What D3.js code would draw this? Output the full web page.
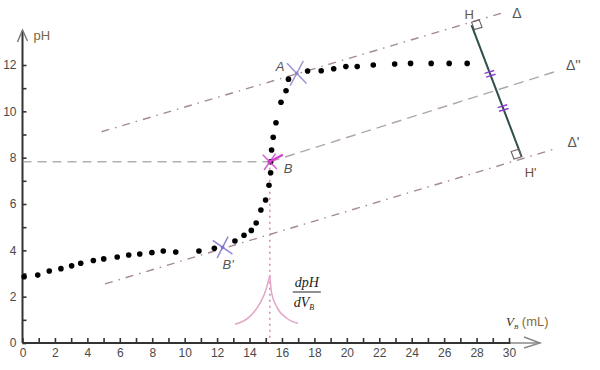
<!DOCTYPE html>
<html>
<head>
<meta charset="utf-8">
<script src="https://cdn.jsdelivr.net/npm/d3@7"></script>
<style>
  body { margin: 0; background: #fff; }
  svg { display: block; }
</style>
</head>
<body>
<svg id="chart" width="600" height="370"></svg>
<script>
// titration curve
const volumeMl = [0.1, 0.94, 1.65, 2.37, 3.03, 3.59, 4.37, 5.01, 5.84, 6.55, 7.23, 7.98, 8.68, 9.45,
  10.88, 11.83, 13.10, 13.66, 14.11, 14.41, 14.70, 14.99, 15.20, 15.30, 15.30, 15.36, 15.46, 15.63,
  15.94, 16.25, 16.40, 17.58, 18.42, 19.19, 19.94, 20.64, 21.63, 22.95, 23.93, 25.20, 26.31, 27.42];
const phValues = [2.86, 2.93, 3.11, 3.21, 3.33, 3.44, 3.56, 3.63, 3.71, 3.80, 3.84, 3.90, 3.97, 3.93,
  3.97, 4.09, 4.40, 4.65, 4.86, 5.18, 5.74, 6.17, 6.81, 7.35, 7.82, 8.33, 8.88, 9.51,
  10.39, 10.89, 11.39, 11.74, 11.75, 11.84, 11.93, 11.93, 12.00, 12.04, 12.07, 12.07, 12.07, 12.07];

const xTickValues = d3.range(0, 31);
const xTickLabels = [0, 2, 4, 6, 8, 10, 12, 14, 16, 18, 20, 22, 24, 26, 28, 30];
const yTickValues = d3.range(0, 13);
const yTickLabels = [0, 2, 4, 6, 8, 10, 12];

// parallel tangents (endpoints [mL, pH])
const tangentDelta = [[4.88, 9.12], [29.64, 14.26]];
const tangentDeltaPrime = [[5.09, 2.55], [32.93, 8.40]];
const tangentDeltaMid = [[15.25, 7.82], [32.83, 11.71]];

const pointA = [16.91, 11.64];
const pointB = [15.25, 7.82];
const pointBPrime = [12.34, 4.13];
const pointH = [27.69, 13.72];
const pointHPrime = [30.78, 8.04];

// dpH/dV peak, in the same pH units
const derivLeft = [[13.10, 0.81], [14.01, 1.14], [14.64, 1.71], [15.01, 2.29], [15.25, 2.93]];
const derivRight = [[15.25, 2.93], [15.36, 2.15], [15.67, 1.57], [16.29, 1.07], [17.00, 0.85]];

const svg = d3.select("#chart");
const x = d3.scaleLinear().domain([0, 30]).range([22.5, 509]);
const y = d3.scaleLinear().domain([0, 12]).range([343, 65]);
const px = d => [x(d[0]), y(d[1])];

const font = "'Liberation Sans', Arial, sans-serif";
const serif = "'Liberation Serif', 'Times New Roman', serif";

// axes
const gx = svg.append("g").attr("transform", `translate(0,${y(0)})`)
  .call(d3.axisBottom(x).tickValues(xTickValues).tickSize(-5).tickPadding(5)
    .tickFormat(d => xTickLabels.includes(d) ? d : ""));
const gy = svg.append("g").attr("transform", `translate(${x(0)},0)`)
  .call(d3.axisLeft(y).tickValues(yTickValues).tickSize(-4).tickPadding(6)
    .tickFormat(d => yTickLabels.includes(d) ? d : ""));
[gx, gy].forEach(g => {
  g.select(".domain").remove();
  g.selectAll(".tick line").attr("stroke", "#333").attr("stroke-width", 1.6);
  g.selectAll(".tick text").attr("fill", "#4a4a4a").style("font", `12px ${font}`);
});

svg.append("line").attr("x1", x(0)).attr("y1", y(0)).attr("x2", x(30.1)).attr("y2", y(0))
  .attr("stroke", "#333").attr("stroke-width", 2);
svg.append("line").attr("x1", x(30.1)).attr("y1", y(0)).attr("x2", x(30) + 31).attr("y2", y(0))
  .attr("stroke", "#888").attr("stroke-width", 1.5);
svg.append("path").attr("d", `M${x(30) + 15},${y(0) - 6}L${x(30) + 31},${y(0)}L${x(30) + 15},${y(0) + 5}`)
  .attr("fill", "none").attr("stroke", "#888").attr("stroke-width", 1.5);

svg.append("line").attr("x1", x(0)).attr("y1", y(0)).attr("x2", x(0)).attr("y2", 31)
  .attr("stroke", "#333").attr("stroke-width", 2);
svg.append("path").attr("d", `M${x(0) - 5},${42}L${x(0)},${30}L${x(0) + 5},${41}`)
  .attr("fill", "none").attr("stroke", "#777").attr("stroke-width", 1.4);

svg.append("text").attr("x", x(0) + 11).attr("y", 40).text("pH")
  .attr("fill", "#7a6548").style("font", `13px ${font}`);

const vLabel = svg.append("text").attr("x", 506).attr("y", 326).style("font", `13px ${font}`);
vLabel.append("tspan").text("V").attr("fill", "#333").style("font", `italic 13px ${serif}`);
vLabel.append("tspan").text("B").attr("dy", 3).attr("fill", "#333").style("font", `italic 7px ${serif}`);
vLabel.append("tspan").text(" (mL)").attr("dy", -3).attr("fill", "#8b6a3a");

// helper lines
svg.append("line")
  .attr("x1", x(0)).attr("y1", y(pointB[1])).attr("x2", x(pointB[0])).attr("y2", y(pointB[1]))
  .attr("stroke", "#8a8a8a").attr("stroke-width", 1).attr("stroke-dasharray", "9,6");

svg.append("line")
  .attr("x1", x(pointB[0])).attr("y1", y(pointB[1])).attr("x2", x(pointB[0])).attr("y2", y(0))
  .attr("stroke", "#d48fb2").attr("stroke-width", 1.6).attr("stroke-dasharray", "2,4");

const segLine = d3.line().x(d => x(d[0])).y(d => y(d[1]));
[
  { data: tangentDelta, color: "#a38a92", dash: "8,6,1.5,6" },
  { data: tangentDeltaPrime, color: "#a38a92", dash: "8,6,1.5,6" },
  { data: tangentDeltaMid, color: "#b0a6a8", dash: "10,6" }
].forEach(t => {
  svg.append("path").attr("d", segLine(t.data)).attr("fill", "none")
    .attr("stroke", t.color).attr("stroke-width", 1.4).attr("stroke-dasharray", t.dash);
});

// derivative peak
const peakLine = d3.line().x(d => x(d[0])).y(d => y(d[1])).curve(d3.curveMonotoneX);
[derivLeft, derivRight].forEach(part => {
  svg.append("path").attr("d", peakLine(part)).attr("fill", "none")
    .attr("stroke", "#e2a6c8").attr("stroke-width", 1.5);
});
const fx = x(pointB[0]) + 23;
svg.append("text").attr("x", fx + 14).attr("y", 287).attr("text-anchor", "middle")
  .text("dpH").attr("fill", "#222").style("font", `italic 14px ${serif}`);
svg.append("line").attr("x1", fx).attr("x2", fx + 28).attr("y1", 292).attr("y2", 292)
  .attr("stroke", "#222").attr("stroke-width", 1);
const den = svg.append("text").attr("x", fx + 1).attr("y", 307).attr("fill", "#222")
  .style("font", `italic 14px ${serif}`);
den.append("tspan").text("dV");
den.append("tspan").text("B").attr("dy", 3).style("font-size", "8px");

// perpendicular H H'
const [hx, hy] = px(pointH), [hpx, hpy] = px(pointHPrime);
svg.append("line").attr("x1", hx).attr("y1", hy).attr("x2", hpx).attr("y2", hpy)
  .attr("stroke", "#2f4f4c").attr("stroke-width", 2);

const len = Math.hypot(hpx - hx, hpy - hy);
const v = [(hpx - hx) / len, (hpy - hy) / len];
const td = [x(tangentDelta[1][0]) - x(tangentDelta[0][0]), y(tangentDelta[1][1]) - y(tangentDelta[0][1])];
const tl = Math.hypot(td[0], td[1]);
const u = [td[0] / tl, td[1] / tl];
const s = 8;
function square(cx, cy, a, b) {
  return `M${cx},${cy}L${cx + a[0] * s},${cy + a[1] * s}L${cx + (a[0] + b[0]) * s},${cy + (a[1] + b[1]) * s}L${cx + b[0] * s},${cy + b[1] * s}Z`;
}
svg.append("path").attr("d", square(hx, hy - 3, u, v))
  .attr("fill", "none").attr("stroke", "#6a6060").attr("stroke-width", 1.1);
svg.append("path").attr("d", square(hpx, hpy, [-u[0], -u[1]], [-v[0], -v[1]]))
  .attr("fill", "none").attr("stroke", "#6a6060").attr("stroke-width", 1.1);

[0.37, 0.63].forEach(t => {
  const cx = hx + (hpx - hx) * t, cy = hy + (hpy - hy) * t;
  [-2, 2].forEach(o => {
    const ox = cx + v[0] * o, oy = cy + v[1] * o;
    svg.append("line").attr("x1", ox - u[0] * 5).attr("y1", oy - u[1] * 5)
      .attr("x2", ox + u[0] * 5).attr("y2", oy + u[1] * 5)
      .attr("stroke", "#8a3fd0").attr("stroke-width", 1.5);
  });
});

// points
svg.append("g").selectAll("circle")
  .data(d3.zip(volumeMl, phValues))
  .join("circle")
  .attr("cx", d => x(d[0]))
  .attr("cy", d => y(d[1]))
  .attr("r", 2.8)
  .attr("fill", "#000");

// cross markers
function cross(p, color, half, a1, a2, w) {
  const [cx, cy] = px(p);
  [a1, a2].forEach(a => {
    const r = a * Math.PI / 180;
    svg.append("line")
      .attr("x1", cx - Math.cos(r) * half).attr("y1", cy - Math.sin(r) * half)
      .attr("x2", cx + Math.cos(r) * half).attr("y2", cy + Math.sin(r) * half)
      .attr("stroke", color).attr("stroke-width", w).attr("opacity", 0.85);
  });
  svg.append("circle").attr("cx", cx).attr("cy", cy).attr("r", 1.8).attr("fill", color);
}
cross(pointA, "#8c82cc", 14, 46, 118, 1.5);
cross(pointB, "#d23fcf", 10, 45, 125, 1.5);
cross(pointBPrime, "#7b73cc", 12, 35, 117, 1.5);
{
  const [bx, by] = px(pointB);
  svg.append("line").attr("x1", bx - 2).attr("y1", by + 1).attr("x2", bx + 13).attr("y2", by - 7)
    .attr("stroke", "#d23fcf").attr("stroke-width", 2.2);
}

// names
const labels = [
  { p: pointA, text: "A", dx: -21, dy: -2 },
  { p: pointB, text: "B", dx: 14, dy: 11 },
  { p: pointBPrime, text: "B'", dx: 0, dy: 22 }
];
svg.append("g").selectAll("text").data(labels).join("text")
  .attr("x", d => x(d.p[0]) + d.dx).attr("y", d => y(d.p[1]) + d.dy)
  .text(d => d.text).attr("fill", "#555").style("font", `italic 13px ${font}`);

svg.append("text").attr("x", hx - 7).attr("y", hy - 6).text("H")
  .attr("fill", "#6b5536").style("font", `13px ${font}`);
svg.append("text").attr("x", hpx + 3).attr("y", hpy + 20).text("H'")
  .attr("fill", "#6b5536").style("font", `13px ${font}`);

const deltaLabels = [
  { p: tangentDelta[1], text: "\u0394", dx: 9, dy: 5 },
  { p: tangentDeltaMid[1], text: "\u0394''", dx: 11, dy: -2 },
  { p: tangentDeltaPrime[1], text: "\u0394'", dx: 11, dy: -1 }
];
svg.append("g").selectAll("text").data(deltaLabels).join("text")
  .attr("x", d => x(d.p[0]) + d.dx).attr("y", d => y(d.p[1]) + d.dy)
  .text(d => d.text).attr("fill", "#555").style("font", `14px ${font}`);
</script>
</body>
</html>
